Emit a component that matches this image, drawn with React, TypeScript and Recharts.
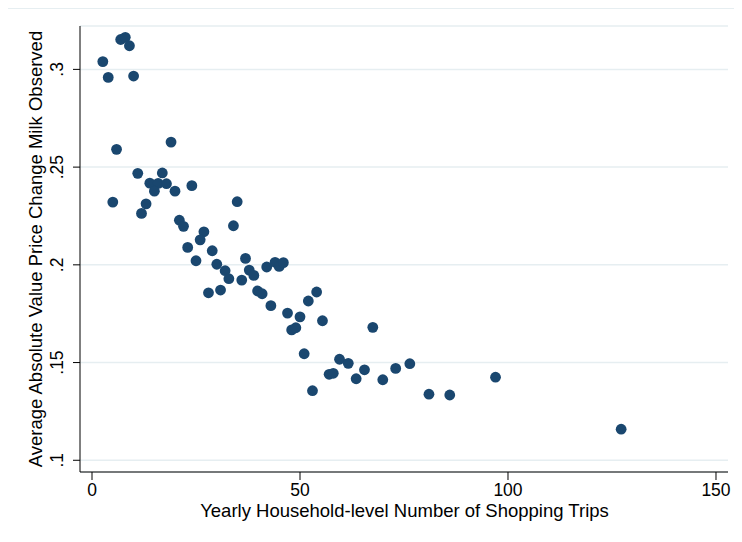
import React from 'react';
import {ScatterChart, Scatter, XAxis, YAxis, CartesianGrid} from 'recharts';

// yearly shopping trips per household (binned) and avg abs price change of milk
const trips = [
    2.6, 3.9, 6.9, 8.0, 9.0, 10.0, 19.0, 5.9, 11.0, 16.9,
    13.9, 15.9, 17.9, 15.0, 19.95, 24.0, 5.0, 13.0, 11.9, 34.9,
    21.0, 22.0, 26.9, 34.0, 26.0, 23.0, 28.9, 36.9, 25.0, 30.0,
    32.0, 37.8, 38.9, 32.9, 36.0, 42.0, 44.0, 45.0, 46.0, 28.0,
    30.9, 39.8, 40.9, 43.0, 47.0, 50.0, 52.0, 54.0, 55.4, 48.0,
    49.0, 67.5, 51.0, 59.5, 61.6, 76.4, 73.0, 65.5, 57.0, 58.0,
    63.5, 69.9, 53.0, 81.0, 86.0, 97.0, 127.2,
];
const priceChange = [
    0.304, 0.2959, 0.3153, 0.3164, 0.3121, 0.2966, 0.2628, 0.2591, 0.2468, 0.247,
    0.2418, 0.2417, 0.2415, 0.2377, 0.2377, 0.2405, 0.2321, 0.2312, 0.2263, 0.2323,
    0.2228, 0.2197, 0.2169, 0.22, 0.2128, 0.2089, 0.2072, 0.2033, 0.2021, 0.2003,
    0.197, 0.1973, 0.1946, 0.1929, 0.1922, 0.1989, 0.2013, 0.1992, 0.2011, 0.1857,
    0.1871, 0.1866, 0.1852, 0.1791, 0.1753, 0.1734, 0.1815, 0.1861, 0.1714, 0.1667,
    0.1678, 0.168, 0.1545, 0.1517, 0.1496, 0.1494, 0.147, 0.1463, 0.144, 0.1445,
    0.1417, 0.1412, 0.1356, 0.1338, 0.1334, 0.1425, 0.1159,
];

const xTicks = [0, 50, 100, 150];
const yTicks = [0.1, 0.15, 0.2, 0.25, 0.3];
const yTickLabels = ['.1', '.15', '.2', '.25', '.3'];

const xTitle = 'Yearly Household-level Number of Shopping Trips';
const yTitle = 'Average Absolute Value Price Change Milk Observed';

const data = trips.map((t, i) => ({trips: t, change: priceChange[i]}));

const FONT = "'Liberation Sans', Arial, Helvetica, sans-serif";
const NAVY = '#1a476f';
const GRID = '#e6eef1';

const YTick = (props: any) => {
    const {x, y, payload} = props;
    const i = yTicks.findIndex(v => Math.abs(v - payload.value) < 1e-9);
    const bx = x - 7;
    return (
        <text x={bx} y={y} transform={`rotate(-90, ${bx}, ${y})`} textAnchor="middle"
              fontSize={17.5} fontFamily={FONT} fill="#000">
            {i >= 0 ? yTickLabels[i] : payload.value}
        </text>
    );
};

const XTitle = () => (
    <text x={396.5} y={509} textAnchor="middle" fontSize={18.5} fontFamily={FONT} fill="#000">
        {xTitle}
    </text>
);

const YTitle = () => (
    <text x={34} y={241} transform="rotate(-90, 34, 241)" textAnchor="middle"
          fontSize={18.5} fontFamily={FONT} fill="#000">
        {yTitle}
    </text>
);

const Dot = (props: any) => <circle cx={props.cx} cy={props.cy} r={5.4} fill={NAVY}/>;

const App = () => {
    return (
        <div style={{position: 'relative', width: 734, height: 534}}>
            <div style={{
                position: 'absolute', left: -1, top: 0, width: 735, height: 534,
                borderTop: `1px solid ${GRID}`, borderLeft: `1px solid ${GRID}`,
                boxSizing: 'border-box', pointerEvents: 'none',
            }}/>
            <ScatterChart width={734} height={534} margin={{top: 18, right: 14, left: 0, bottom: 0}}>
                <CartesianGrid vertical={false} stroke={GRID} strokeWidth={1.5}/>
                <XAxis type="number" dataKey="trips" domain={[-2.885, 152.885]} ticks={xTicks}
                       allowDataOverflow height={70} tickSize={8} tickMargin={4}
                       stroke="#000" tickLine={{stroke: '#000'}}
                       tick={{fontSize: 17.5, fontFamily: FONT, fill: '#000'}}
                       label={XTitle}/>
                <YAxis type="number" dataKey="change" domain={[0.094, 0.3222]} ticks={yTicks}
                       allowDataOverflow width={72} tickSize={7} tickMargin={3}
                       stroke="#000" tickLine={{stroke: '#000'}}
                       tick={YTick} label={YTitle}/>
                <Scatter data={data} fill={NAVY} shape={Dot} isAnimationActive={false}/>
            </ScatterChart>
        </div>
    );
};

export default App;
